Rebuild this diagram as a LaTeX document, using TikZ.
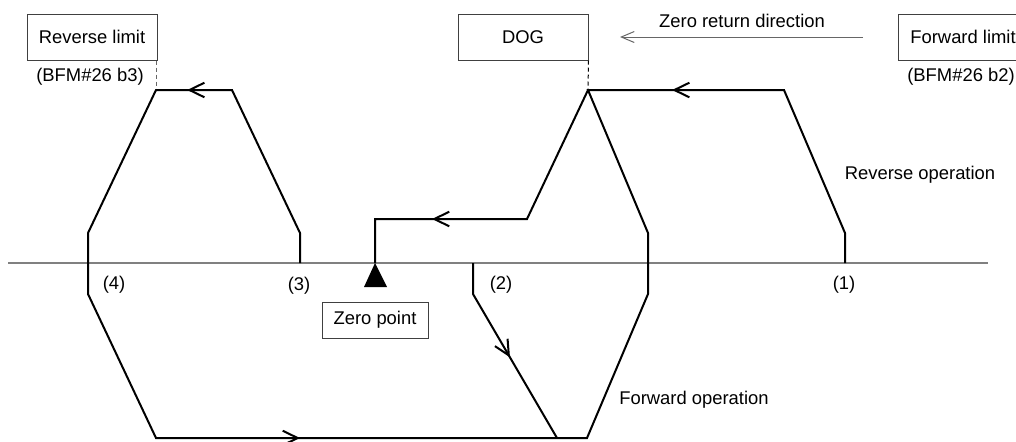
\documentclass[tikz,border=0pt]{standalone}
\usepackage{fontspec}
\setmainfont{Liberation Sans}
\usetikzlibrary{arrows.meta,decorations.markings}
\tikzset{
  barb/.tip={Straight Barb[length=7.5pt,width=7.3pt,line width=1pt]},
}
\begin{document}
\begin{tikzpicture}[x=0.5pt,y=-0.5pt,
  lbl/.style={font=\fontsize{9.2}{11}\selectfont, inner sep=0pt},
  boxed/.style={lbl, draw=black!75, line width=0.5pt, minimum width=65pt, minimum height=23pt},
  flow/.style={line width=1pt, line join=miter},
  axisline/.style={line width=1pt, draw=black!50},
  guide/.style={line width=0.5pt, draw=black!60, dash pattern=on 2pt off 1.5pt},
  mid/.style={postaction={decorate}, decoration={markings, mark=at position #1 with {\arrow{barb}}}}
]
\useasboundingbox (0,0) rectangle (1016,441);

% axis
\coordinate (ax1) at (8,263);
\coordinate (ax2) at (988,263);
\draw[axisline] (ax1) -- (ax2);

% boxes
\node[boxed] (revlim) at (92,37) {Reverse limit};
\node[boxed] (dog) at (523,37) {DOG};
\node[boxed] (fwdlim) at (963,37) {Forward limit};
\node[boxed, minimum width=53pt, minimum height=18pt] (zpt) at (375,320) {Zero point};

% labels
\node[lbl] (bfm3) at (90,77) {(BFM\#26 b3)};
\node[lbl] (bfm2) at (961,77) {(BFM\#26 b2)};
\node[lbl] (zrd) at (742,21) {Zero return direction};
\node[lbl] (revop) at (920,175) {Reverse operation};
\node[lbl] (fwdop) at (694,400) {Forward operation};
\node[lbl] (n1) at (844,285) {(1)};
\node[lbl] (n2) at (501,285) {(2)};
\node[lbl] (n3) at (299,286) {(3)};
\node[lbl] (n4) at (114,285) {(4)};

% zero return direction arrow
\coordinate (zrs) at (863,37);
\coordinate (zre) at (620,37);
\draw[line width=0.5pt, draw=black!60, -{Straight Barb[length=6.5pt,width=5.5pt,line width=0.5pt]}] (zrs) -- (zre);

% path points
\coordinate (s1) at (845,263);
\coordinate (s1t) at (845,233);
\coordinate (r1) at (784,90);
\coordinate (dogpk) at (588,90);
\coordinate (dr1) at (648,233);
\coordinate (dr2) at (648,294);
\coordinate (drb) at (587,438);
\coordinate (lb) at (156,438);
\coordinate (l2) at (88,294);
\coordinate (l1) at (88,233);
\coordinate (lpk) at (156,90);
\coordinate (lr) at (232,90);
\coordinate (s3t) at (300,233);
\coordinate (s3) at (300,263);
\coordinate (zl1) at (527,219);
\coordinate (zl2) at (375,219);
\coordinate (zp) at (375,263);
\coordinate (p2a) at (473,263);
\coordinate (p2b) at (473,294);
\coordinate (p2c) at (557,438);
\coordinate (tl) at (364,287);
\coordinate (tr) at (387,287);

% guide dashes
\draw[guide] (lpk |- revlim.south) -- (lpk);
\draw[guide, draw=black] (dog.south east) -- (dogpk);

% main paths
\draw[flow] (s1) -- (s1t) -- (r1) -- (dogpk) -- (dr1) -- (dr2) -- (drb) -- (lb) -- (l2) -- (l1) -- (lpk) -- (lr) -- (s3t) -- (s3);
\draw[flow] (dogpk) -- (zl1) -- (zl2) -- (zp);
\draw[flow] (p2a) -- (p2b) -- (p2c);

% direction arrows
\path[mid=0.571] (r1) -- (dogpk);
\path[mid=0.59] (lr) -- (lpk);
\path[mid=0.625] (zl1) -- (zl2);
\path[mid=0.334] (lb) -- (drb);
\path[mid=0.44] (p2b) -- (p2c);

% zero point marker
\fill (zp) -- (tr) -- (tl) -- cycle;
\end{tikzpicture}
\end{document}
